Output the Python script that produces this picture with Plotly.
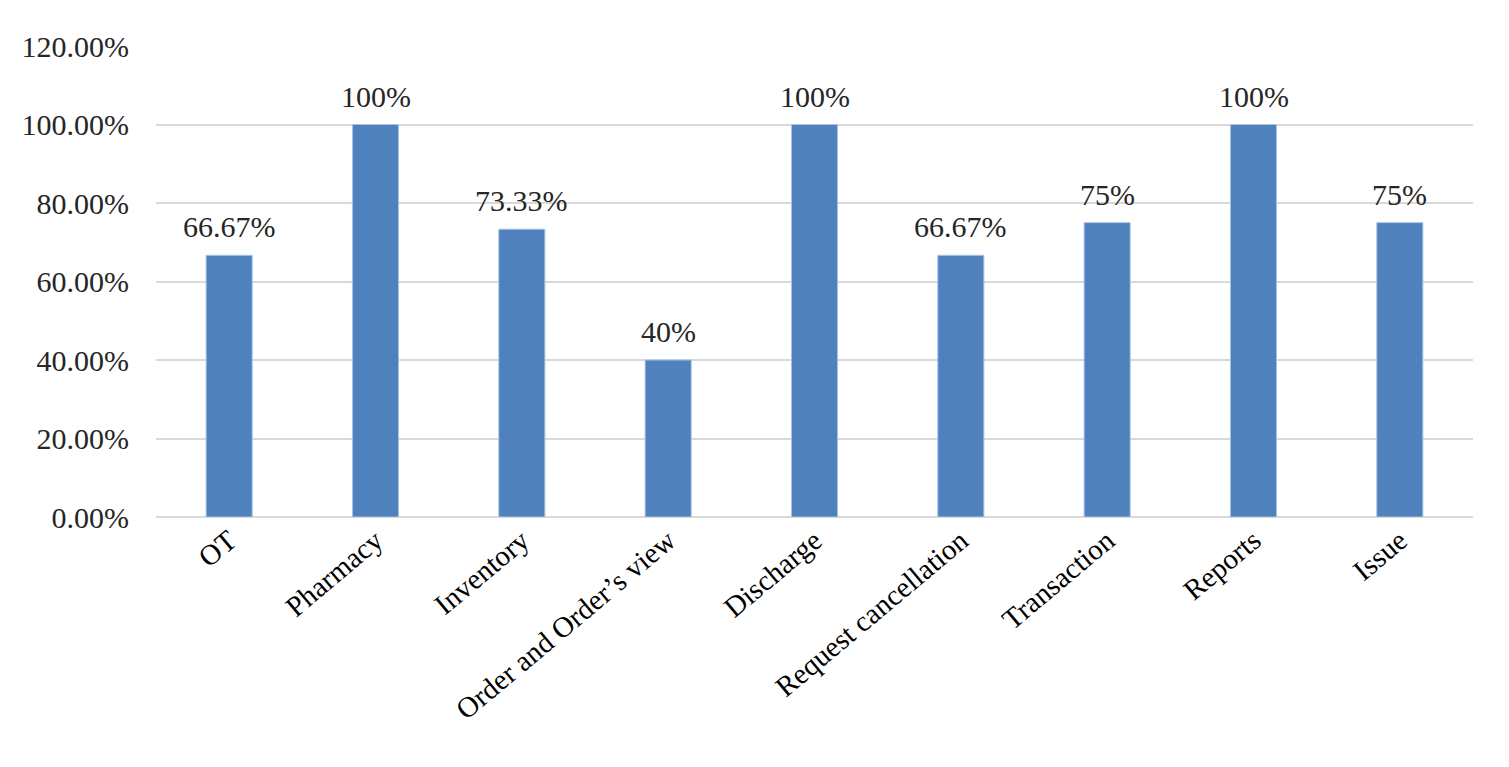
import plotly.graph_objects as go

categories = ["OT", "Pharmacy", "Inventory", "Order and Order\u2019s view", "Discharge",
              "Request cancellation", "Transaction", "Reports", "Issue"]
values = [66.67, 100, 73.33, 40, 100, 66.67, 75, 100, 75]
labels = ["66.67%", "100%", "73.33%", "40%", "100%", "66.67%", "75%", "100%", "75%"]
yticks = [0, 20, 40, 60, 80, 100, 120]
yticklabels = ["0.00%", "20.00%", "40.00%", "60.00%", "80.00%", "100.00%", "120.00%"]

font = "Liberation Serif, Times New Roman, serif"

fig = go.Figure()
fig.add_trace(go.Bar(
    x=categories, y=values,
    marker=dict(color="#4f81bd", line=dict(color="#a9c4e6", width=1)),
    hoverinfo="x+y",
))

for c, v, t in zip(categories, values, labels):
    fig.add_annotation(x=c, y=v, text=t, showarrow=False, yanchor="bottom",
                       yshift=10, font=dict(family=font, size=30, color="#262626"))

fig.update_layout(
    width=1509, height=767,
    margin=dict(l=148, r=44, t=38, b=258),
    paper_bgcolor="white", plot_bgcolor="white",
    bargap=0.685,
    showlegend=False,
    font=dict(family=font, size=20, color="#262626"),
)
fig.update_yaxes(range=[0, 120], tickvals=yticks, ticktext=yticklabels,
                 showgrid=True, gridcolor="#d9d9d9", gridwidth=1.5,
                 zeroline=True, zerolinecolor="#d9d9d9", zerolinewidth=1.5,
                 ticks="", ticklabelstandoff=26,
                 tickfont=dict(family=font, size=30, color="#262626"))
fig.update_xaxes(tickangle=-40, ticks="", showline=False,
                 tickfont=dict(family=font, size=29, color="#000000"))

fig.write_html("out.html")
